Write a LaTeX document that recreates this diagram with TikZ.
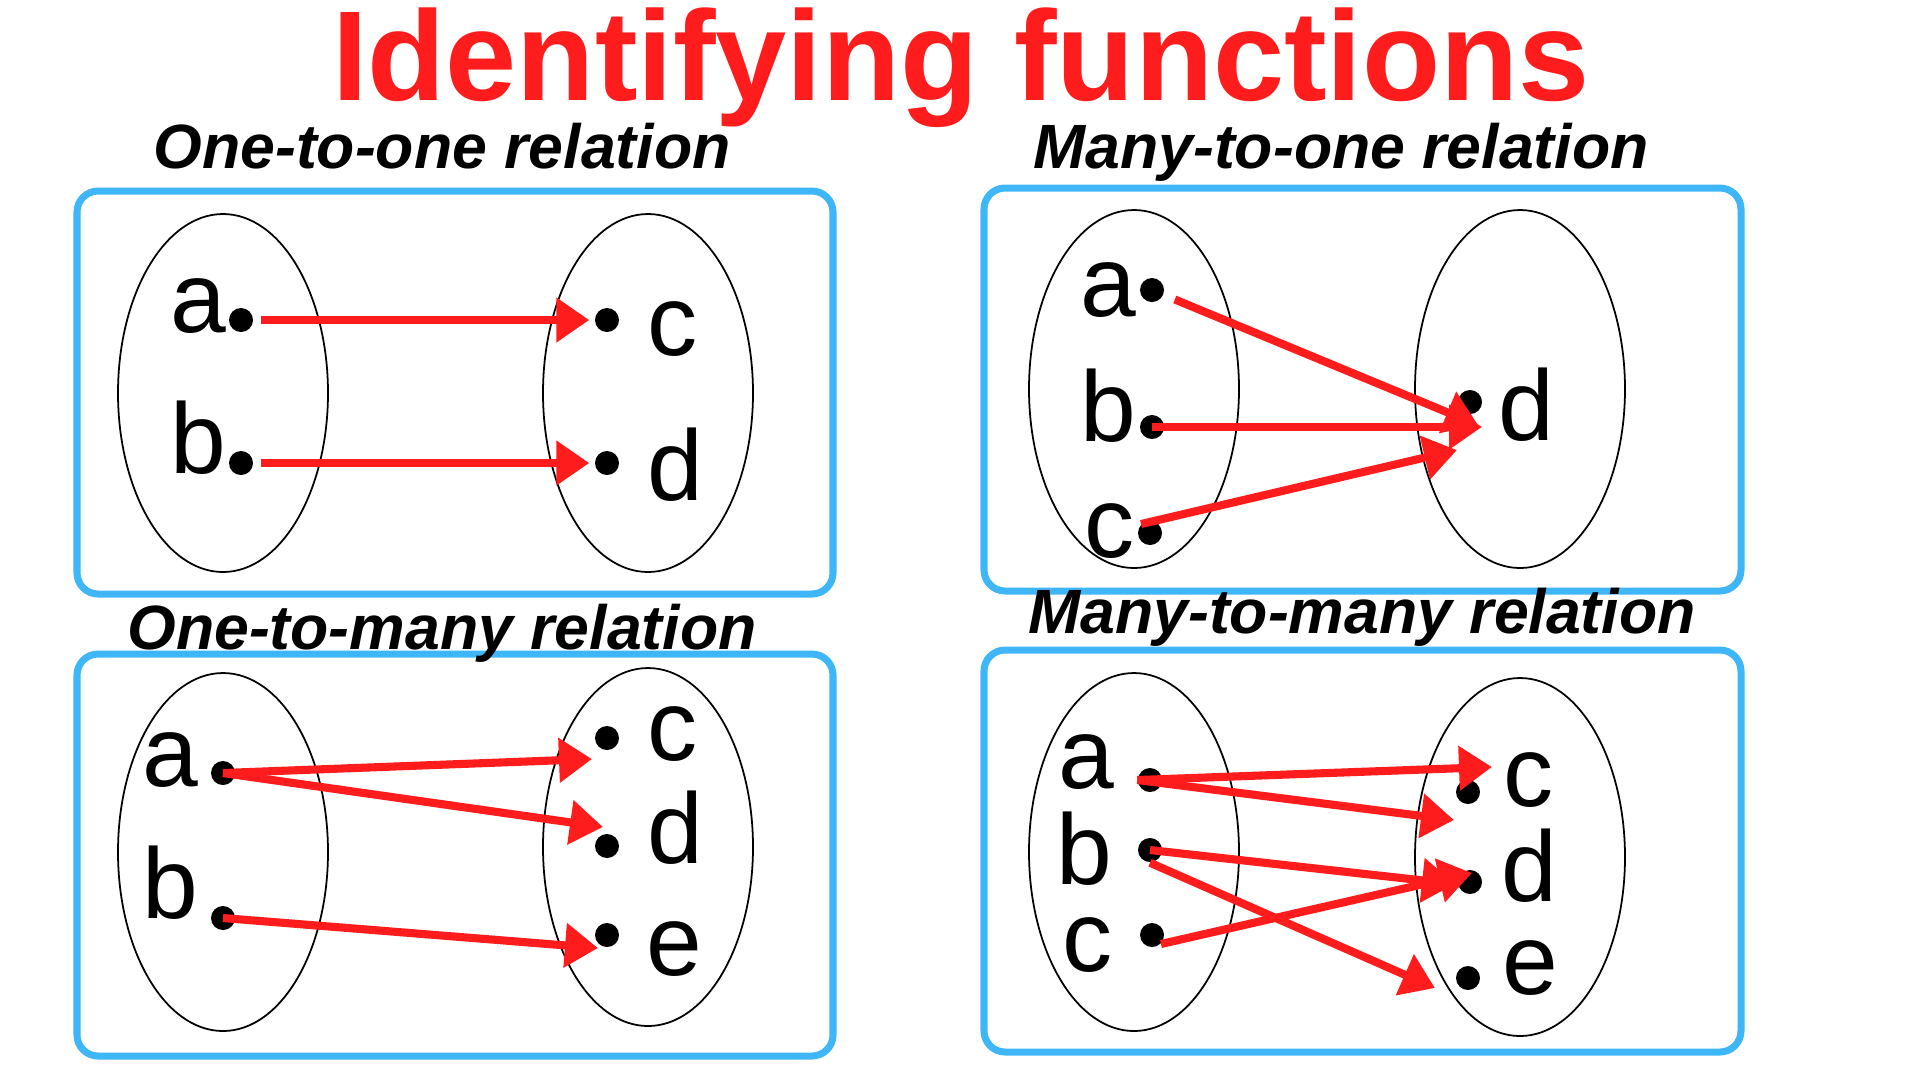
\documentclass[tikz,border=0pt]{standalone}
\usepackage{fontspec}
\setmainfont{Liberation Sans}
\usetikzlibrary{arrows.meta}
\definecolor{fnred}{HTML}{FF1C1C}
\definecolor{fnblue}{HTML}{3FB6F7}
\tikzset{
  pnl/.style={draw=fnblue, line width=2pt, rounded corners=6pt},
  setl/.style={draw=black, line width=0.5pt},
  dt/.style={circle, fill=black, inner sep=0pt, minimum size=2.4mm},
  elt/.style={anchor=base, inner sep=0pt, font=\fontsize{28.5}{30}\selectfont},
  hd/.style={anchor=base, inner sep=0pt, font=\fontsize{17.8}{20}\selectfont\bfseries\itshape},
  ttl/.style={anchor=base, inner sep=0pt, text=fnred, font=\fontsize{36.4}{40}\selectfont\bfseries},
  arr/.style={-{Triangle[length=3.3mm, width=4.3mm]}, line width=2.3pt, color=fnred},
}
\begin{document}
\begin{tikzpicture}[x=0.1mm, y=-0.1mm]
  \useasboundingbox (0,0) rectangle (1920,1080);
  \node[ttl] (title) at (961,100) {Identifying functions};
  \foreach \xa/\ya/\xb/\yb in {77/191/833/594, 984/188/1741/591, 77/654/833/1056, 984/650/1741/1052}
    \draw[pnl] (\xa,\ya) rectangle (\xb,\yb);
  \foreach \x/\y in {223/393, 648/393, 1134/389, 1520/389, 223/852, 648/847, 1134/852, 1520/857}
    \draw[setl] (\x,\y) ellipse [x radius=10.5mm, y radius=17.9mm];
  \node[hd] (h11) at (442,168) {One-to-one relation};
  \node[hd] (hm1) at (1341,168) {Many-to-one relation};
  \node[hd] (h1m) at (442,649) {One-to-many relation};
  \node[hd] (hmm) at (1362,633) {Many-to-many relation};
  \foreach \n/\x/\y in {ooa/241/320, oob/241/463, ooc/607/320, ood/607/463,
      moa/1152/290, mob/1152/427, moc/1150/533, mod/1470/402,
      oma/223/773, omb/223/918, omc/607/738, omd/607/846, ome/607/935,
      mmLa/1150/780, mmLb/1150/850, mmLc/1152/935, mmRc/1468/792, mmRd/1470/882, mmRe/1468/978}
    \node[dt] (\n) at (\x,\y) {};
  \foreach \n/\t/\x/\y in {ooat/a/198/332, oobt/b/198/473, ooct/c/673/355, oodt/d/675/500,
      moat/a/1108/316, mobt/b/1108/441, moct/c/1110/557, modt/d/1526/440,
      omat/a/170/786, ombt/b/170/918, omct/c/673/760, omdt/d/675/863, omet/e/674/975,
      mmLat/a/1086/788, mmLbt/b/1084/884, mmLct/c/1088/971, mmRct/c/1529/806, mmRdt/d/1529/901, mmRet/e/1530/994}
    \node[elt] (\n) at (\x,\y) {\t};
  \coordinate (moT1) at (1478,425);
  \coordinate (moT2) at (1482,427);
  \coordinate (moT3) at (1457,450);
  \coordinate (omT1) at (592,759);
  \coordinate (omT2) at (603,827);
  \coordinate (omT3) at (598,948);
  \coordinate (mmT1) at (1492,767);
  \coordinate (mmT2) at (1454,820);
  \coordinate (mmT3) at (1455,884);
  \coordinate (mmT4) at (1435,988);
  \coordinate (mmT5) at (1472,873);
  \draw[arr, shorten <=0.7mm, shorten >=0.5mm] (ooa) -- (ooc);
  \draw[arr, shorten <=0.7mm, shorten >=0.5mm] (oob) -- (ood);
  \draw[arr, shorten <=1.2mm] (moa) -- (moT1);
  \draw[arr] (mob.center) -- (moT2);
  \draw[arr] (moc.north west) -- (moT3);
  \draw[arr] (oma.center) -- (omT1);
  \draw[arr] (oma.center) -- (omT2);
  \draw[arr] (omb.center) -- (omT3);
  \draw[arr] (mmLa.west) -- (mmT1);
  \draw[arr] (mmLa.west) -- (mmT2);
  \draw[arr] (mmLb.center) -- (mmT3);
  \draw[arr] (mmLb.south) -- (mmT4);
  \draw[arr] (mmLc.south east) -- (mmT5);
\end{tikzpicture}
\end{document}
